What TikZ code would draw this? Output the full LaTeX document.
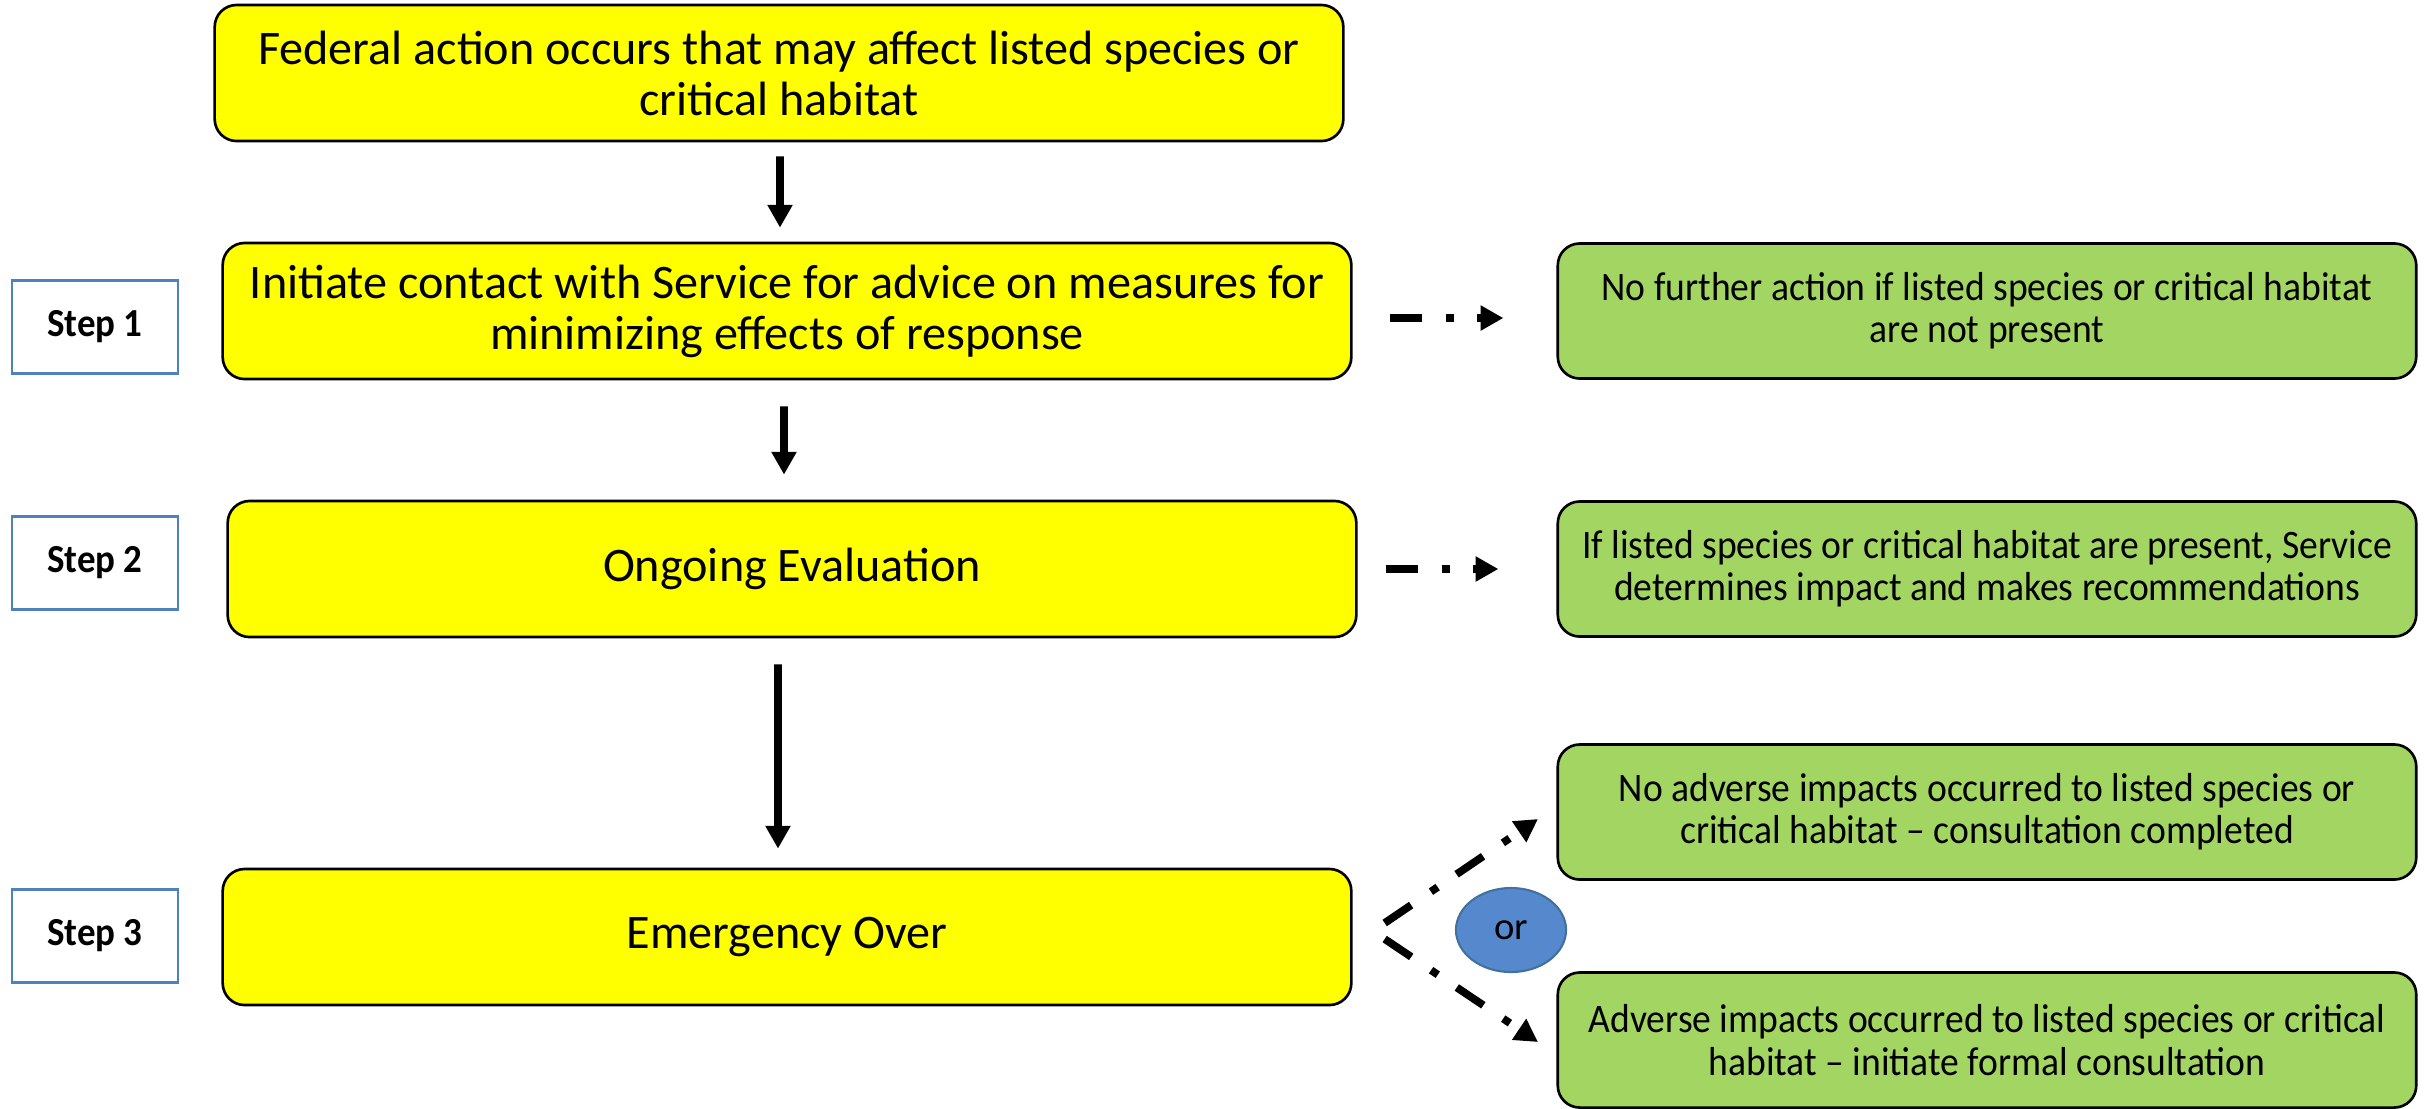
\documentclass[tikz,border=0pt]{standalone}
\usepackage{fontspec}
\setmainfont{Carlito}
\newfontfamily\narrowfont{Carlito}[Ligatures=TeX,FakeStretch=0.93]
\usepackage{tikz}
\usetikzlibrary{arrows.meta,shapes.geometric}
\definecolor{ActYellow}{RGB}{255,255,0}
\definecolor{ResGreen}{RGB}{163,213,99}
\definecolor{OrBlue}{RGB}{86,136,206}
\definecolor{OrBlueLine}{RGB}{65,113,156}
\definecolor{StepLine}{RGB}{79,129,189}

\begin{document}
\begin{tikzpicture}[x=0.01cm,y=-0.01cm,
act/.style={draw=black,line width=0.75pt,fill=ActYellow,rounded corners=0.22cm,minimum width=11.28cm,minimum height=1.36cm,align=center,font=\fontsize{13.7}{14.5}\selectfont},
res/.style={draw=black,line width=0.75pt,fill=ResGreen,rounded corners=0.22cm,minimum width=8.58cm,minimum height=1.35cm,align=center,font=\narrowfont\fontsize{11.5}{12}\selectfont},
stepbox/.style={draw=StepLine,line width=0.6pt,minimum width=1.66cm,minimum height=0.93cm,font=\narrowfont\bfseries\fontsize{11.3}{13}\selectfont},
flow/.style={-{Triangle[width=6.8pt,length=6.5pt]},line width=2.2pt},
maybe/.style={flow,dash pattern=on 9.1pt off 6.8pt on 2.3pt off 6.5pt}]
\useasboundingbox (0,0) rectangle (2425,1108);
% main column
\node[act] (n0) at (779,73) {Federal action occurs that may affect listed species or\\critical habitat};
\node[act] (n1) at (787,311) {Initiate contact with Service for advice on measures for\\minimizing effects of response};
\node[act] (n2) at (792,569) {Ongoing Evaluation};
\node[act] (n3) at (787,937) {Emergency Over};
% outcomes
\node[res] (r1) at (1987,311) {No further action if listed species or critical habitat\\are not present};
\node[res] (r2) at (1987,569) {If listed species or critical habitat are present, Service\\determines impact and makes recommendations};
\node[res] (r3) at (1987,812) {No adverse impacts occurred to listed species or\\critical habitat -- consultation completed};
\node[res] (r4) at (1987,1040) {Adverse impacts occurred to listed species or critical\\habitat -- initiate formal consultation};
\node[ellipse,draw=OrBlueLine,line width=0.6pt,fill=OrBlue,minimum width=1.1cm,minimum height=0.84cm,inner sep=0pt,font=\fontsize{11}{13}\selectfont] (or) at (1511,930) {or};
\foreach \k/\y in {1/327,2/563,3/936}{
   \node[stepbox] (step\k) at (95,\y) {Step \k};
}
\coordinate (upTip) at (1538,819);
\coordinate (downTip) at (1538,1042);
% arrows
\draw[flow,shorten <=0.14cm,shorten >=0.14cm] ([xshift=0.01cm]n0.south) -- ([xshift=-0.07cm]n1.north);
\draw[flow,shorten <=0.26cm,shorten >=0.25cm] ([xshift=-0.03cm]n1.south) -- ([xshift=-0.08cm]n2.north);
\draw[flow,shorten <=0.26cm,shorten >=0.19cm] ([xshift=-0.14cm]n2.south) -- ([xshift=-0.09cm]n3.north);
\draw[maybe,shorten <=0.37cm,shorten >=0.53cm] ([yshift=-0.07cm]n1.east) -- ([yshift=-0.07cm]r1.west);
\draw[maybe,shorten <=0.28cm,shorten >=0.58cm] (n2.east) -- (r2.west);
\draw[maybe] ([shift={(0.32cm,0.14cm)}]n3.east) -- (upTip);
\draw[maybe] ([shift={(0.32cm,-0.02cm)}]n3.east) -- (downTip);
\end{tikzpicture}
\end{document}
